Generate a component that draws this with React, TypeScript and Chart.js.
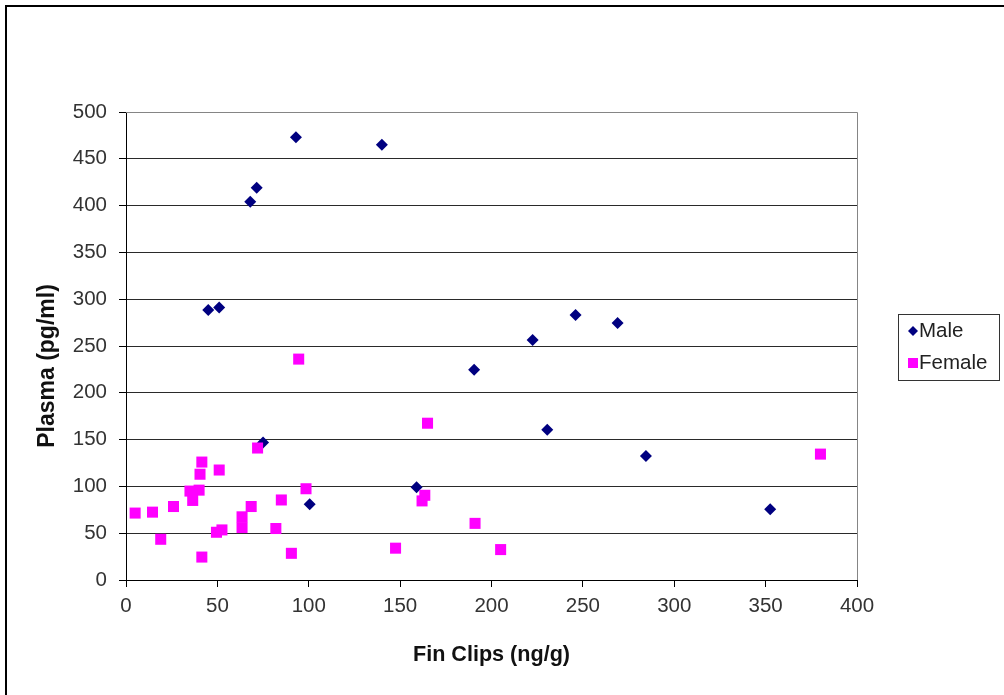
import React, { useEffect, useRef } from "react";
import { Chart, registerables } from "chart.js";

Chart.register(...registerables);

const FONT = "'Liberation Sans', Arial, sans-serif";

const seriesNames = ["Male", "Female"];
const maleX = [93, 140, 68, 71.5, 45, 51, 75, 100.5, 159, 190.5, 222.5, 230.5, 246, 269, 284.5, 352.5];
const maleY = [473, 465, 404, 419, 288.5, 291, 147, 81, 99, 224.5, 256.5, 160.5, 283, 274.5, 132.5, 75.5];
const femaleX = [5, 14.5, 26, 19, 35, 36.5, 40, 40.5, 41.5, 41.5, 51, 49.5, 52.5, 63.5, 63.5, 68.5, 72, 82, 85, 90.5, 98.5, 94.5, 165, 163.5, 162, 191, 147.5, 205, 380];
const femaleY = [71.5, 72.5, 78.5, 43.5, 95, 85, 96, 113, 126, 24.5, 117.5, 51, 53.5, 67.5, 56, 78.5, 141, 55, 85.5, 28.5, 97.5, 236, 167.5, 90.5, 84.5, 60.5, 34, 32.5, 134.5];
const xTitle = "Fin Clips (ng/g)";
const yTitle = "Plasma (pg/ml)";
const xMin = 0, xMax = 400, xStep = 50;
const yMin = 0, yMax = 500, yStep = 50;

const toPoints = (xs: number[], ys: number[]) => xs.map((x, i) => ({ x, y: ys[i] }));

const decorPlugin = {
  id: "decor",
  beforeDraw(chart: any) {
    const ctx = chart.ctx;
    ctx.save();
    ctx.fillStyle = "#ffffff";
    ctx.fillRect(0, 0, chart.width, chart.height);
    ctx.restore();
  },
  afterDraw(chart: any) {
    const ctx = chart.ctx;
    const a = chart.chartArea;
    ctx.save();
    // plot area top/right border
    ctx.strokeStyle = "#858585";
    ctx.lineWidth = 1;
    ctx.beginPath();
    ctx.moveTo(a.left, Math.round(a.top) + 0.5);
    ctx.lineTo(Math.round(a.right) + 0.5, Math.round(a.top) + 0.5);
    ctx.lineTo(Math.round(a.right) + 0.5, a.bottom);
    ctx.stroke();
    // outer frame
    ctx.strokeStyle = "#000000";
    ctx.lineWidth = 2;
    ctx.strokeRect(6, 6, chart.width + 50, chart.height + 50);
    // y title
    ctx.fillStyle = "#111111";
    ctx.font = `bold 23px ${FONT}`;
    ctx.textAlign = "center";
    ctx.textBaseline = "middle";
    ctx.translate(48, 366);
    ctx.rotate(-Math.PI / 2);
    ctx.fillText(yTitle, 0, 0);
    ctx.restore();

    // legend
    ctx.save();
    const lx = 898, ly = 314, lw = 101, lh = 66;
    ctx.strokeStyle = "#333333";
    ctx.lineWidth = 1;
    ctx.strokeRect(lx + 0.5, ly + 0.5, lw, lh);
    ctx.font = `20.5px ${FONT}`;
    ctx.textAlign = "left";
    ctx.textBaseline = "middle";
    const ds = chart.data.datasets;
    const rows = [331, 363];
    ds.forEach((d: any, i: number) => {
      const cy = rows[i];
      const cx = 913;
      ctx.fillStyle = d.backgroundColor;
      ctx.beginPath();
      if (d.pointStyle === "rectRot") {
        ctx.moveTo(cx - 5, cy);
        ctx.lineTo(cx, cy - 5);
        ctx.lineTo(cx + 5, cy);
        ctx.lineTo(cx, cy + 5);
        ctx.closePath();
      } else {
        ctx.rect(cx - 5, cy - 5, 10, 10);
      }
      ctx.fill();
      ctx.fillStyle = "#222222";
      ctx.fillText(d.label, 919, cy);
    });
    ctx.restore();
  },
};

export default function App() {
  const ref = useRef<HTMLCanvasElement | null>(null);
  useEffect(() => {
    if (!ref.current) return;
    const chart = new Chart(ref.current, {
      type: "scatter",
      data: {
        datasets: [
          {
            label: seriesNames[0],
            data: toPoints(maleX, maleY),
            backgroundColor: "#000080",
            borderColor: "#000080",
            borderWidth: 0,
            pointStyle: "rectRot",
            pointRadius: 6,
            pointHoverRadius: 6,
            order: 1,
          },
          {
            label: seriesNames[1],
            data: toPoints(femaleX, femaleY),
            backgroundColor: "#ff00ff",
            borderColor: "#ff00ff",
            borderWidth: 0,
            pointStyle: "rect",
            pointRadius: 7.8,
            pointHoverRadius: 7.8,
            order: 0,
          },
        ],
      },
      options: {
        responsive: false,
        animation: false,
        devicePixelRatio: 1,
        layout: { padding: { left: 0, top: 112, right: 147, bottom: 0 } },
        plugins: {
          legend: { display: false },
          tooltip: { enabled: false },
          title: { display: false },
        },
        scales: {
          x: {
            type: "linear",
            min: xMin,
            max: xMax,
            afterFit: (s: any) => {
              s.height = 115;
            },
            ticks: {
              stepSize: xStep,
              color: "#333333",
              font: { family: FONT, size: 20.5 },
              padding: 7,
              maxRotation: 0,
            },
            grid: {
              drawOnChartArea: false,
              drawTicks: true,
              tickLength: 7,
              tickColor: "#000000",
              color: "#000000",
            },
            border: { display: true, color: "#000000", width: 1 },
            title: {
              display: true,
              text: xTitle,
              color: "#111111",
              font: { family: FONT, size: 21.6, weight: "bold" },
              padding: { top: 0, bottom: 27 },
            },
          },
          y: {
            type: "linear",
            min: yMin,
            max: yMax,
            afterFit: (s: any) => {
              s.width = 126;
            },
            ticks: {
              stepSize: yStep,
              color: "#333333",
              font: { family: FONT, size: 20.5 },
              padding: 12,
            },
            grid: {
              drawTicks: true,
              tickLength: 7,
              tickColor: "#000000",
              color: (c: any) => (c.tick && c.tick.value === yMax ? "#858585" : "#2a2a2a"),
              lineWidth: 1,
            },
            border: { display: true, color: "#000000", width: 1 },
            title: { display: false },
          },
        },
      },
      plugins: [decorPlugin],
    } as any);
    return () => chart.destroy();
  }, []);
  return (
    <div style={{ position: "fixed", left: 0, top: 0, width: 1004, height: 695 }}>
      <canvas ref={ref} width={1004} height={695} style={{ width: 1004, height: 695, display: "block" }} />
    </div>
  );
}
